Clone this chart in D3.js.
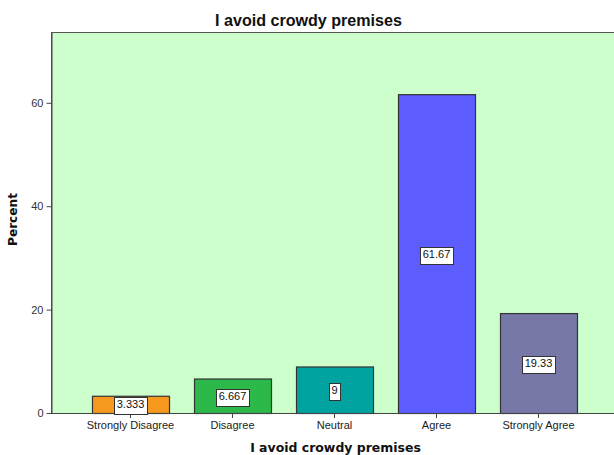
<!DOCTYPE html>
<html><head><meta charset="utf-8">
<script src="https://cdn.jsdelivr.net/npm/d3@7"></script>
<style>body{margin:0;background:#fff}svg{display:block}</style>
</head><body>
<svg id="c" width="614" height="455"></svg>
<script>
const categories = ["Strongly Disagree","Disagree","Neutral","Agree","Strongly Agree"];
const values = [3.333, 6.667, 9, 61.67, 19.33];
const labels = ["3.333","6.667","9","61.67","19.33"];
const colors = ["#f7991f","#2db84a","#00a3a0","#5c5cff","#7878a8"];
const yTicks = [0,20,40,60];

const svg = d3.select("#c");
const L = 51, T = 32, R = 614, B = 413;
const x = d3.scaleBand().domain(categories).range([79.5, 589.5]).paddingInner(0.245).paddingOuter(0.1225);
const y = d3.scaleLinear().domain([0, 73.7]).range([B, T]);
const FF = "Arial, 'Liberation Sans', sans-serif";
const FB = "'DejaVu Sans', Verdana, sans-serif";

svg.append("rect").attr("x", L + 0.5).attr("y", T + 0.5).attr("width", R - L).attr("height", B - T)
  .attr("fill", "#ccffcc").attr("stroke", "#555").attr("stroke-width", 1);

svg.selectAll("rect.bar").data(values).join("rect").attr("class","bar")
  .attr("x", (d,i) => x(categories[i]) + 0.5)
  .attr("y", d => y(d) + 0.5)
  .attr("width", x.bandwidth())
  .attr("height", d => B - y(d))
  .attr("fill", (d,i) => colors[i]).attr("stroke", "#333").attr("stroke-width", 1.2);

// axes
const ya = svg.append("g").attr("transform", `translate(${L + 0.5},0)`)
  .call(d3.axisLeft(y).tickValues(yTicks).tickSize(5).tickSizeOuter(0).tickPadding(3).tickFormat(d3.format("d")));
ya.select(".domain").attr("stroke", "#444");
ya.selectAll("line").attr("stroke", "#444");
ya.selectAll("text").attr("font-family", FF).attr("font-size", 11).attr("fill", "#333");

const xa = svg.append("g").attr("transform", `translate(0,${B})`)
  .call(d3.axisBottom(x).tickSize(5).tickSizeOuter(0).tickPadding(3));
xa.select(".domain").attr("d", `M${L},0.5H${R}`).attr("stroke", "#444");
xa.selectAll("line").attr("stroke", "#444");
xa.selectAll("text").attr("font-family", FF).attr("font-size", 11).attr("fill", "#222");

// value labels
const lg = svg.append("g");
values.forEach((v, i) => {
  const cx = x(categories[i]) + x.bandwidth() / 2;
  const cy = Math.min((y(v) + B) / 2, B - 7);
  const t = lg.append("text").attr("x", cx).attr("y", cy).attr("dy", "0.36em")
    .attr("text-anchor", "middle").attr("font-family", FF)
    .attr("font-size", 11).attr("fill", "#111").text(labels[i]);
  const bb = t.node().getBBox();
  lg.insert("rect", () => t.node()).attr("x", Math.round(bb.x - 2.5) + 0.5).attr("y", Math.round(bb.y) - 0.5)
    .attr("width", Math.round(bb.width + 5)).attr("height", 17)
    .attr("fill", "#fff").attr("stroke", "#333").attr("stroke-width", 1);
});

function fitText(sel, w) {
  const fs = +sel.attr("font-size");
  const len = sel.node().getComputedTextLength();
  sel.attr("font-size", fs * w / len);
}
const tt = svg.append("text").attr("x", 308.5).attr("y", 25.5).attr("text-anchor", "middle")
  .attr("font-family", FF).attr("font-weight", "bold").attr("font-size", 14)
  .attr("fill", "#111").text("I avoid crowdy premises");
fitText(tt, 187);
const xt = svg.append("text").attr("x", 335.5).attr("y", 451.5).attr("text-anchor", "middle")
  .attr("font-family", FB).attr("font-weight", "bold").attr("font-size", 13)
  .attr("fill", "#111").text("I avoid crowdy premises");
fitText(xt, 171);
const pt = svg.append("text").attr("transform", "translate(17,219.5) rotate(-90)").attr("text-anchor", "middle")
  .attr("font-family", FB).attr("font-weight", "bold").attr("font-size", 13)
  .attr("fill", "#111").text("Percent");
fitText(pt, 53);
</script>
</body></html>
